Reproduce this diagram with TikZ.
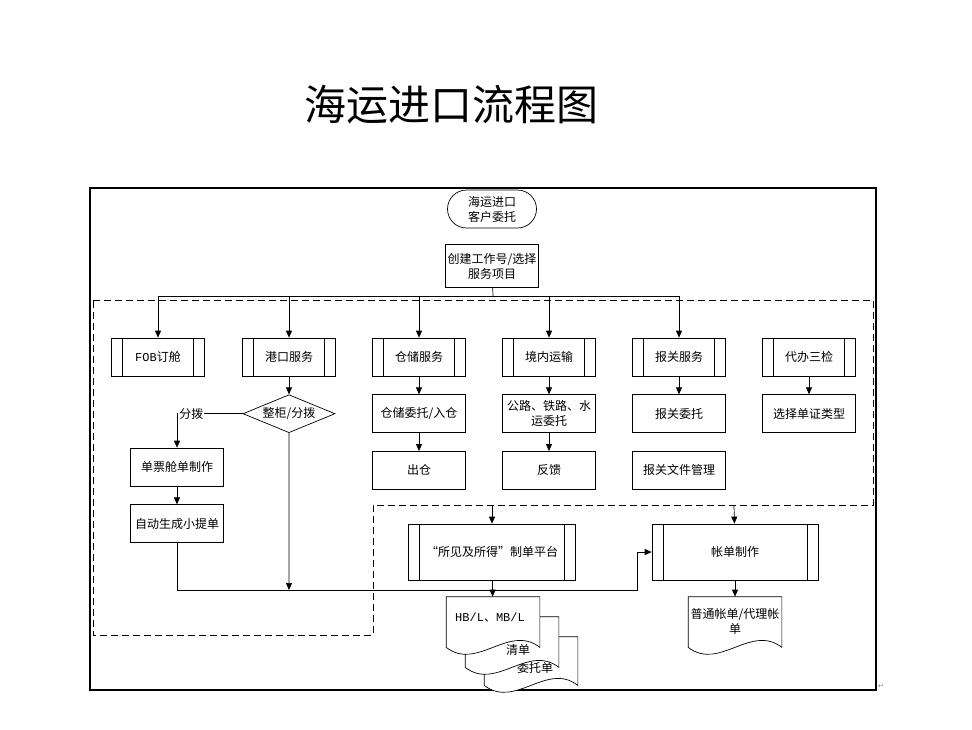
\documentclass[tikz,border=0pt]{standalone}
\usepackage{fontspec}
\setmainfont{Noto Sans CJK SC}
\setmonofont{Liberation Mono}
\newfontfamily\symfont{DejaVu Sans}
\usetikzlibrary{positioning, arrows.meta, shapes.geometric, shapes.misc}

\newcommand{\docpath}[1]{(#1.north west) -- (#1.north east) -- (#1.south east)
  .. controls ([xshift=-31pt,yshift=24pt]#1.south east) and ([xshift=31pt,yshift=-24pt]#1.south west) .. (#1.south west) -- cycle}

\begin{document}
\begin{tikzpicture}[x=1pt, y=-1pt, line width=0.7pt,
     node distance = 18pt and 36.3pt,
                 > = {Triangle[length=7pt, width=6pt]},
  every node/.style = {font=\fontsize{12}{15}\selectfont},
        box/.style = {rectangle, draw, fill=white, minimum width=93pt,
                     minimum height=38pt, inner sep=1pt, align=center},
       proc/.style = {box, path picture={
                     \draw ([xshift=11pt]path picture bounding box.north west)
                        -- ([xshift=11pt]path picture bounding box.south west)
                           ([xshift=-11pt]path picture bounding box.north east)
                        -- ([xshift=-11pt]path picture bounding box.south east);}},
      start/.style = {rounded rectangle, draw, fill=white, minimum width=91pt,
                     minimum height=38pt, inner sep=1pt, align=center},
     decide/.style = {diamond, draw, fill=white, aspect=2.4, inner sep=0pt,
                     minimum width=92pt, minimum height=38pt},
        doc/.style = {rectangle, draw=none, minimum width=93pt,
                     minimum height=50pt, inner sep=0pt},
    docline/.style = {draw, fill=white},
     region/.style = {dash pattern=on 7pt off 4pt},
                        ]
\useasboundingbox (0,0) rectangle (972,729);
\node (title) at (451,105) [font=\fontsize{42}{48}\selectfont] {海运进口流程图};
\draw[line width=1.3pt] (90,188) rectangle (876,690);
\draw[region] (93,300) -- (873,300) -- (873,505) -- (373,505) -- (373,635) -- (93,635) -- cycle;
\node (mark) at (881,686) [font=\fontsize{7}{7}\selectfont\symfont, text=gray] {↵};

\node (client) at (492,209) [start] {海运进口\\客户委托};
\node (create) [box, minimum height=43pt, below=16pt of client] {创建工作号/选择\\服务项目};

\node (fob) at (158,357) [proc] {{\ttfamily FOB}订舱};
\node (port) [proc, right=37.3pt of fob] {港口服务};
\node (store) [proc, right=of port] {仓储服务};
\node (inland) [proc, right=of store] {境内运输};
\node (customs) [proc, right=of inland] {报关服务};
\node (inspect) [proc, right=of customs] {代办三检};

\node (split) [decide, below=of port] {整柜/分拨};
\node (storein) [box, below=of store] {仓储委托/入仓};
\node (road) [box, below=of inland] {公路、铁路、水\\运委托};
\node (entrust) [box, below=of customs] {报关委托};
\node (select) [box, below=of inspect] {选择单证类型};

\node (out) [box, below=of storein] {出仓};
\node (feedback) [box, below=of road] {反馈};
\node (docmgmt) [box, below=of entrust] {报关文件管理};

\node (manifest) at (177,467) [box] {单票舱单制作};
\node (hbill) [box, below=of manifest] {自动生成小提单};

\node (platform) at (492,552) [proc, minimum width=167pt, minimum height=56pt] {“所见及所得”制单平台};
\node (billing) at (735,552) [proc, minimum width=166pt, minimum height=56pt] {帐单制作};

\coordinate (bus) at (493,296);
\coordinate (merge) at (289,590);
\coordinate (jog) at (637,590);
\coordinate (gate1) at (492,505);
\coordinate (gate2) at (734,505);

\draw (create) -- (bus);
\foreach \n in {fob,port,store,inland,customs}
  \draw[->] (bus) -| (\n);
\draw[->] (port) -- (split);
\draw[->] (store) -- (storein);
\draw[->] (storein) -- (out);
\draw[->] (inland) -- (road);
\draw[->] (road) -- (feedback);
\draw[->] (customs) -- (entrust);
\draw[->] (inspect) -- (select);
\draw[->] (split.west) -| node (splitlbl) [pos=0.39, fill=white, inner sep=1pt] {分拨} (manifest.north);
\draw[->] (manifest) -- (hbill);
\draw[->] (split) -- (merge);
\draw[->] (hbill) |- (jog) |- (billing);
\draw[->] (gate1) -- (platform);
\draw[->] (gate2) -- (billing);

\node (list3) at (531,661) [doc, minimum height=48pt] {};
\draw[docline] \docpath{list3};
\node (list3t) at (535,668) {委托单};
\node (list2) at (512,642) [doc] {};
\draw[docline] \docpath{list2};
\node (list2t) at (518,650) {清单};
\node (hbl) at (493,622) [doc] {};
\draw[docline] \docpath{hbl};
\node (hblt) at (490,617) {{\ttfamily HB/L}、{\ttfamily MB/L}};
\node (acct) at (735,622) [doc] {};
\draw[docline] \docpath{acct};
\node (acctt) at (735,621) [align=center] {普通帐单/代理帐\\单};

\draw[->] (platform) -- (hbl);
\draw[->] (billing) -- (acct);
\end{tikzpicture}
\end{document}
